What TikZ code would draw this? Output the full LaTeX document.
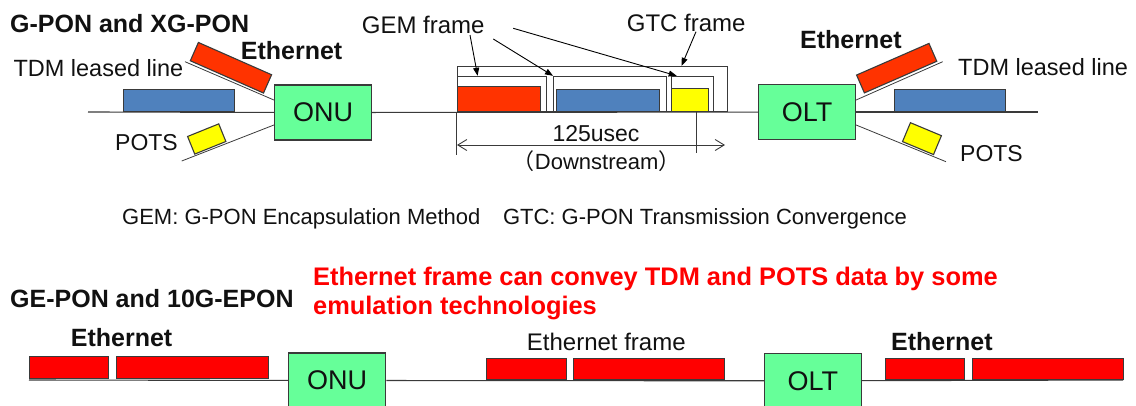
\documentclass[tikz,border=0pt]{standalone}
\usepackage{fontspec}
\setmainfont{Liberation Sans}
\newfontfamily\cjk{Noto Sans CJK JP}
\usetikzlibrary{arrows.meta,calc}
\definecolor{linec}{HTML}{3A3A3A}
\definecolor{onug}{HTML}{66FF99}
\definecolor{ored}{HTML}{FF3300}
\definecolor{tblue}{HTML}{4F81BD}
\definecolor{pyel}{HTML}{FFFF00}
\definecolor{ered}{HTML}{FF0000}
\definecolor{txt}{HTML}{111111}
\begin{document}
\begin{tikzpicture}[x=1pt,y=-1pt,
  lbl/.style={text=txt,inner sep=0pt,anchor=base west,font=\fontsize{24}{28}\selectfont},
  blbl/.style={lbl,font=\fontsize{25}{28}\selectfont\bfseries},
  unit/.style={draw=linec,fill=onug,line width=1.2pt,inner sep=0pt,minimum width=97pt,minimum height=55pt,font=\fontsize{27}{30}\selectfont,text=txt},
  blk/.style={draw=linec,line width=1.1pt,inner sep=0pt,anchor=south west},
  frm/.style={draw=linec,line width=0.9pt,inner sep=0pt,anchor=south west},
  wire/.style={draw=linec,line width=1.1pt},
  thin/.style={draw=linec,line width=0.8pt},
  arr/.style={draw=black,line width=0.9pt,-{Triangle[length=8pt,width=6pt]}},
  dim/.style={draw=linec,line width=0.9pt,{Straight Barb[length=9pt,width=11pt]}-{Straight Barb[length=9pt,width=11pt]}},
]
\useasboundingbox (0,0) rectangle (1136,405);

% ---------- top section ----------
\node[unit] (onu) at (323,112.5) {ONU};
\node[unit] (olt) at (807,112) {OLT};

\coordinate (t0) at (88,112);
\coordinate (t1) at (1038,112);
\draw[wire] (t0) -- (onu);
\draw[wire] (onu) -- (olt);
\draw[wire] (olt) -- (t1);

% left side branches
\coordinate (le) at (185,61.7);
\coordinate (lp) at (181.7,161);
\draw[thin] (le) -- ([yshift=12.5pt]onu.west);
\draw[thin] (lp) -- ([yshift=-12.5pt]onu.west);
\node[blk,fill=ored,minimum width=80pt,minimum height=20pt,rotate=-23.8,anchor=south] (eth1) at (226.7,77.4) {};
\node[blk,fill=pyel,minimum width=33.6pt,minimum height=19pt,rotate=22,anchor=south] (pots1) at (210.5,148.3) {};
\node[blk,fill=tblue,minimum width=111.6pt,minimum height=21.7pt] (tdm1) at (122.7,111.7) {};

% right side branches
\coordinate (re) at (942.7,61.7);
\coordinate (rp) at (946,161.7);
\draw[thin] ([yshift=12pt]olt.east) -- (re);
\draw[thin] ([yshift=-13pt]olt.east) -- (rp);
\node[blk,fill=ored,minimum width=79pt,minimum height=19.5pt,rotate=23.6,anchor=south] (eth2) at (900.8,77.6) {};
\node[blk,fill=pyel,minimum width=33.6pt,minimum height=20.5pt,rotate=-22.7,anchor=south] (pots2) at (917.8,148.6) {};
\node[blk,fill=tblue,minimum width=111pt,minimum height=22pt] (tdm2) at (894,112) {};

% frame structure
\node[frm,minimum width=270pt,minimum height=45.6pt] (gtc) at (456.7,112.3) {};
\node[frm,minimum width=88.7pt,minimum height=35.3pt] (gem1) at (457,112) {};
\node[frm,minimum width=112.7pt,minimum height=35.3pt] (gem2) at (553,112) {};
\node[frm,minimum width=42pt,minimum height=35.3pt] (gem3) at (670.7,112) {};
\node[blk,fill=ored,minimum width=83pt,minimum height=24.7pt] (fred) at (457,112) {};
\node[blk,fill=tblue,minimum width=103.6pt,minimum height=22pt] (fblue) at (555.7,112) {};
\node[blk,fill=pyel,minimum width=37.3pt,minimum height=23pt] (fyel) at (671,112) {};

% 125 usec dimension
\coordinate (dl) at (456.7,155);
\coordinate (dr0) at (696.7,112);
\coordinate (dr1) at (696.7,153);
\coordinate (a0) at (457,145);
\coordinate (a1) at (725,145);
\draw[thin] (gtc.south west) -- (dl);
\draw[thin] (dr0) -- (dr1);
\draw[dim] (a0) -- (a1);
\node[lbl,font=\fontsize{23}{26}\selectfont,anchor=base] (usec) at (596,141.7) {125usec};
\node[lbl,font=\fontsize{22}{26}\selectfont,anchor=base] (down) at (596.7,169) {{\cjk （}Downstream{\cjk ）}};

% frame labels and arrows
\node[lbl] (gemlbl) at (361.7,33.3) {GEM frame};
\node[lbl] (gtclbl) at (626.7,31.7) {GTC frame};
\coordinate (g1) at (470,35);
\coordinate (g2) at (493.3,39);
\coordinate (g3) at (513.3,28.3);
\coordinate (g4) at (696,31.7);
\draw[arr] (g1) -- ($(gem1.north west)!0.23!(gem1.north east)$);
\draw[arr] (g2) -- (gem2.north west);
\draw[arr] (g3) -- ($(gem3.north west)!0.14!(gem3.north east)$);
\draw[arr] (g4) -- ($(gtc.north west)!0.83!(gtc.north east)$);

% top texts
\node[blbl] (title1) at (10,32) {G-PON and XG-PON};
\node[lbl,font=\fontsize{23.5}{28}\selectfont] (tdml) at (13.3,76) {TDM leased line};
\node[blbl] (ethl) at (240.7,59.3) {Ethernet};
\node[lbl,font=\fontsize{23}{28}\selectfont] (potsl) at (115,150) {POTS};
\node[blbl] (ethr) at (800,48.3) {Ethernet};
\node[lbl,font=\fontsize{23.5}{28}\selectfont] (tdmr) at (958,75) {TDM leased line};
\node[lbl,font=\fontsize{23}{28}\selectfont] (potsr) at (960,161.7) {POTS};

\node[lbl,font=\fontsize{22}{26}\selectfont] (abbr) at (122,224) {GEM: G-PON Encapsulation Method\hspace{0.75em} GTC: G-PON Transmission Convergence};

% ---------- bottom section ----------
\node[blbl] (title2) at (10,307) {GE-PON and 10G-EPON};
\node[lbl,text=ered,font=\fontsize{25.4}{30}\selectfont\bfseries] (red1) at (313,285) {Ethernet frame can convey TDM and POTS data by some};
\node[lbl,text=ered,font=\fontsize{25.4}{30}\selectfont\bfseries] (red2) at (313,314) {emulation technologies};

\node[unit] (onu2) at (337.2,380.5) {ONU};
\node[unit] (olt2) at (812.9,380.8) {OLT};
\coordinate (b0) at (29,380);
\coordinate (b1) at (1123,380);
\draw[wire] (b0) -- (onu2);
\draw[wire] (onu2) -- (olt2);
\draw[wire] (olt2) -- (b1);

\node[blk,fill=ered,minimum width=78.7pt,minimum height=21.7pt] (e1) at (29,379) {};
\node[blk,fill=ered,minimum width=151.7pt,minimum height=21.7pt] (e2) at (116,379) {};
\node[blk,fill=ered,minimum width=79.7pt,minimum height=21pt] (e3) at (486,380) {};
\node[blk,fill=ered,minimum width=150.7pt,minimum height=21pt] (e4) at (573.3,380) {};
\node[blk,fill=ered,minimum width=79.3pt,minimum height=21pt] (e5) at (885,380) {};
\node[blk,fill=ered,minimum width=151pt,minimum height=21pt] (e6) at (972.3,380) {};

\node[blbl] (ethb1) at (70.7,346.7) {Ethernet};
\node[lbl] (ethfr) at (526.7,350) {Ethernet frame};
\node[blbl] (ethb2) at (891,350) {Ethernet};
\end{tikzpicture}
\end{document}
